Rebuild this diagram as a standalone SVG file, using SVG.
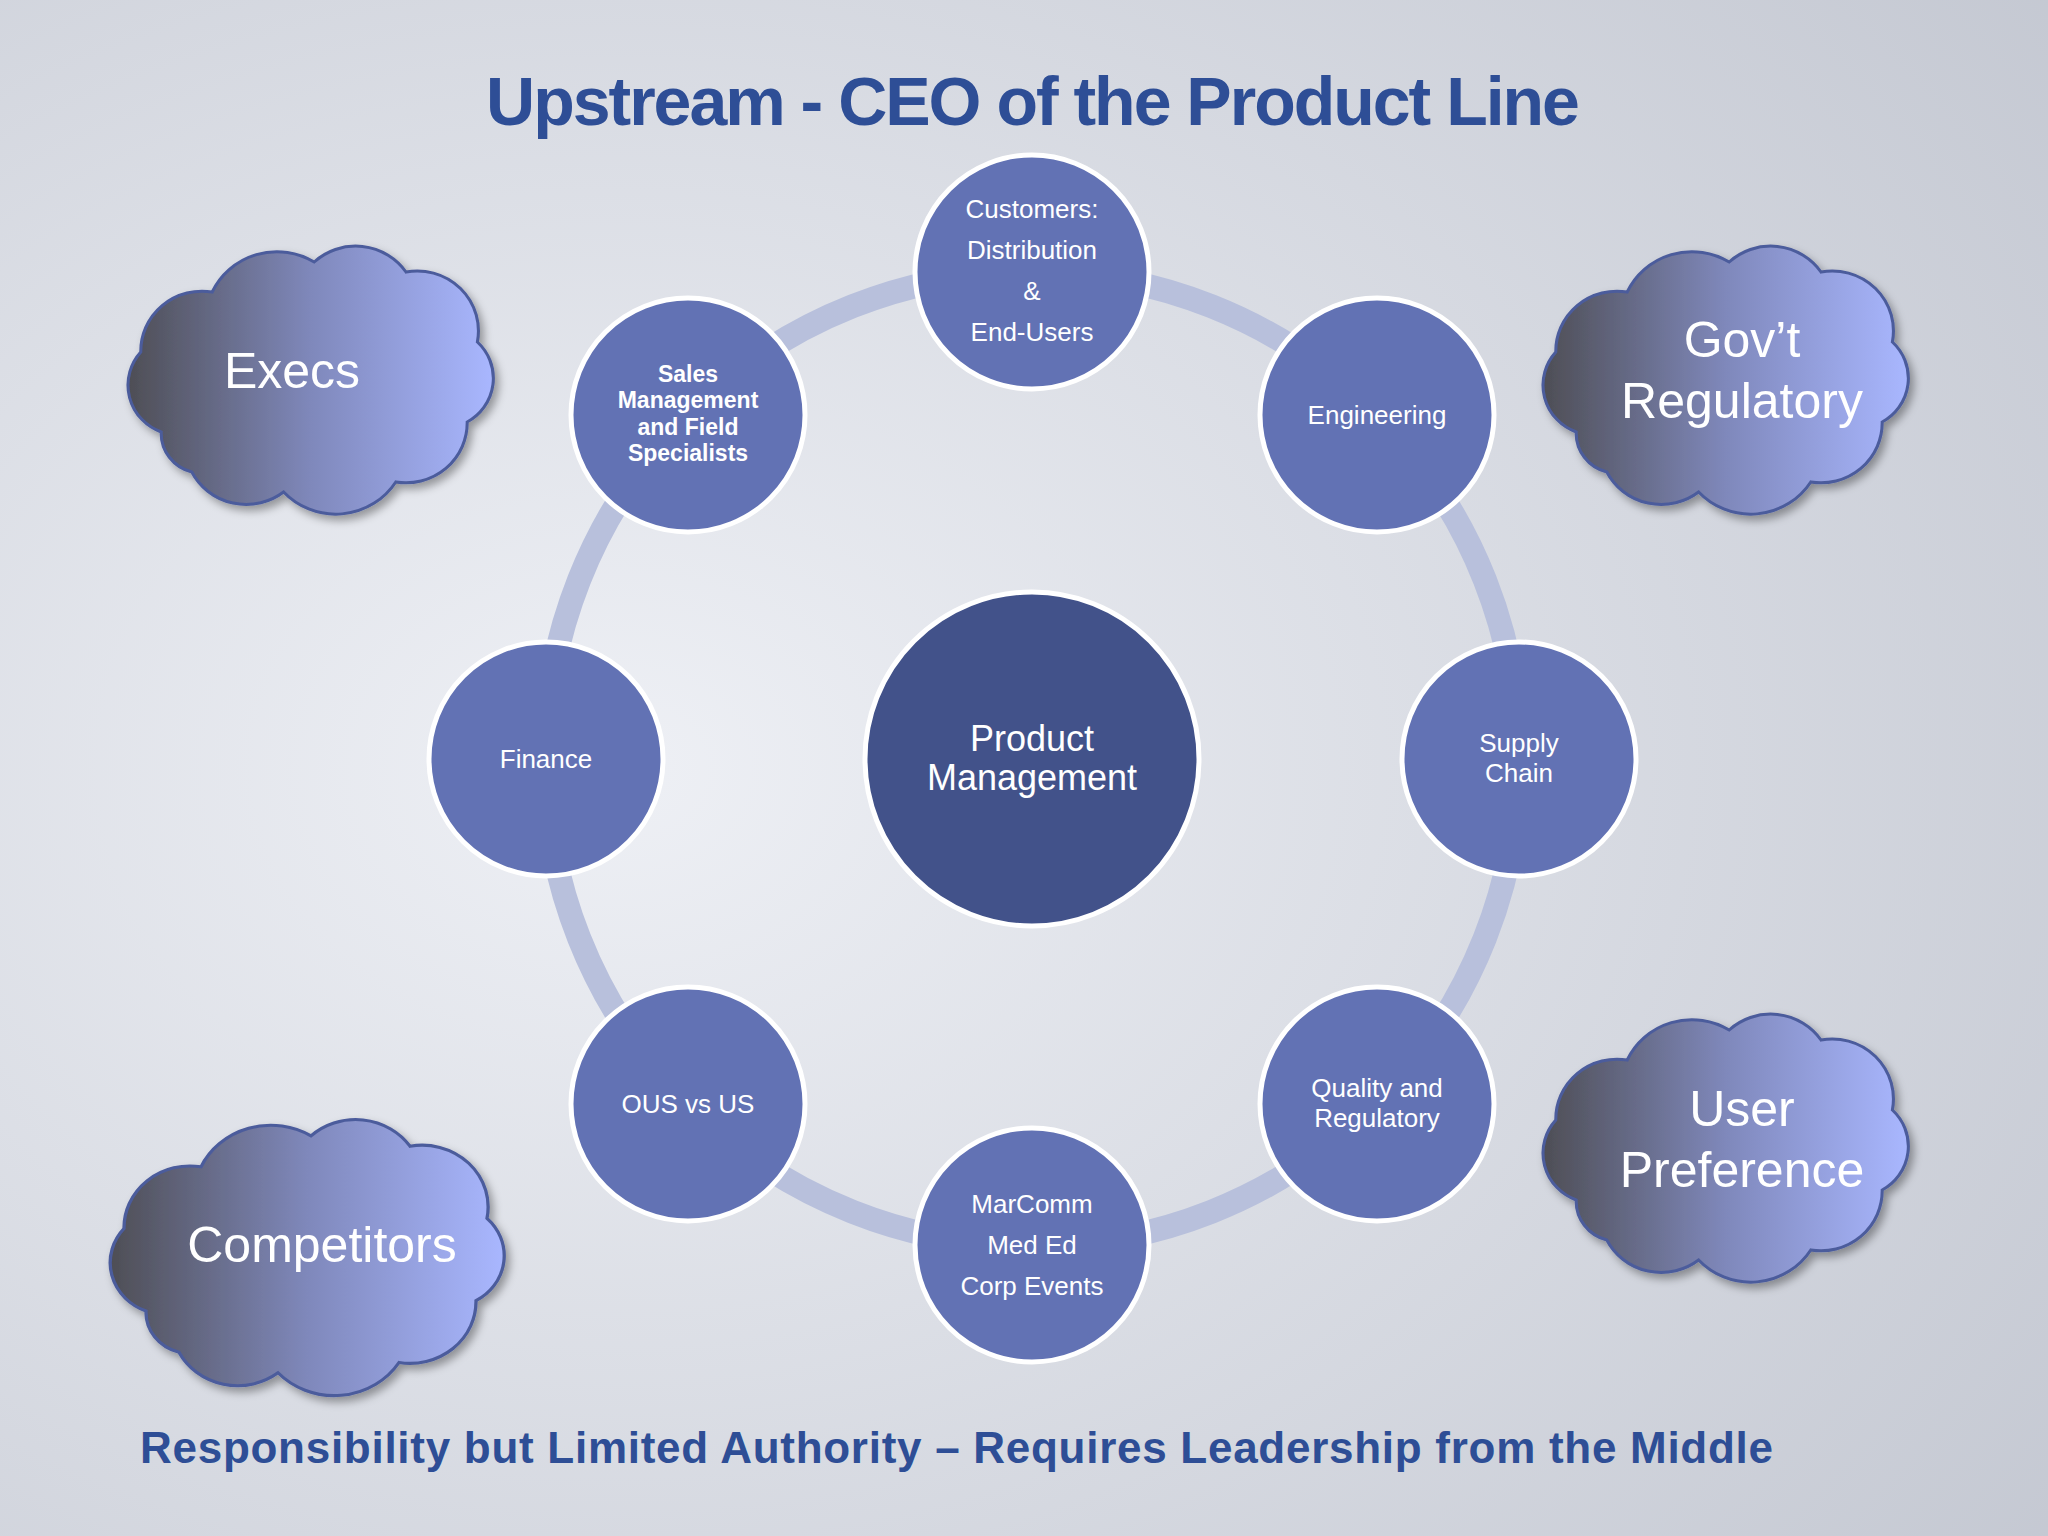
<svg xmlns="http://www.w3.org/2000/svg" width="2048" height="1536" viewBox="0 0 2048 1536">
<defs>
<radialGradient id="bg" cx="0.3" cy="0.5" r="0.9"><stop offset="0" stop-color="#eef0f5"/><stop offset="1" stop-color="#c3c7d1"/></radialGradient>
<linearGradient id="cg" x1="0" y1="0" x2="1" y2="0"><stop offset="0" stop-color="#4e4e55"/><stop offset="0.5" stop-color="#7f88bb"/><stop offset="1" stop-color="#a9b7ff"/></linearGradient>
<path id="cloud" d="M 60,200 A 50,50 0 0 1 40,120 A 60,60 0 0 1 110,60 A 70,70 0 0 1 210,30 A 60,60 0 0 1 300,40 A 60,60 0 0 1 370,110 A 50,50 0 0 1 360,190 A 60,60 0 0 1 290,250 A 70,70 0 0 1 180,260 A 60,60 0 0 1 90,240 A 40,40 0 0 1 60,200 Z" fill="url(#cg)" stroke="#4c5c9c" stroke-width="3"/>
<filter id="sh" x="-10%" y="-10%" width="130%" height="130%"><feDropShadow dx="4" dy="5" stdDeviation="4" flood-opacity="0.35"/></filter>
</defs>
<style>
.sat{fill:#6272b4;stroke:#fff;stroke-width:5}
.t{font-family:"Liberation Sans",Arial,sans-serif;fill:#fff;text-anchor:middle}
.n{font-size:26px}
.c{font-size:50px}
</style>
<rect width="2048" height="1536" fill="url(#bg)"/>
<text x="1032" y="125" font-family="Liberation Sans,Arial,sans-serif" font-weight="bold" font-size="68" fill="#2e4e96" text-anchor="middle" letter-spacing="-2">Upstream - CEO of the Product Line</text>
<g id="connectors"><circle cx="1032" cy="759" r="487" fill="none" stroke="#b8c0dc" stroke-width="24"/></g>
<g id="execs" filter="url(#sh)"><use href="#cloud" transform="translate(100,232) scale(1.02,1.0)"/><text class="t c" x="292" y="388">Execs</text></g>
<g id="govt" filter="url(#sh)"><use href="#cloud" transform="translate(1515,232) scale(1.02,1.0)"/><text class="t c" x="1742" y="357">Gov’t</text><text class="t c" x="1742" y="418">Regulatory</text></g>
<g id="user" filter="url(#sh)"><use href="#cloud" transform="translate(1515,1000) scale(1.02,1.0)"/><text class="t c" x="1742" y="1126">User</text><text class="t c" x="1742" y="1187">Preference</text></g>
<g id="competitors" filter="url(#sh)"><use href="#cloud" transform="translate(80,1105) scale(1.1,1.03)"/><text class="t c" x="322" y="1262">Competitors</text></g>
<g id="center"><circle cx="1032" cy="759" r="167" fill="#42528a" stroke="#fff" stroke-width="5"/><text class="t" font-size="36" x="1032" y="751">Product</text><text class="t" font-size="36" x="1032" y="790">Management</text></g>
<g id="customers"><circle class="sat" cx="1032" cy="272" r="117"/><text class="t n" x="1032" y="218">Customers:</text><text class="t n" x="1032" y="259">Distribution</text><text class="t n" x="1032" y="300">&amp;</text><text class="t n" x="1032" y="341">End-Users</text></g>
<g id="engineering"><circle class="sat" cx="1377" cy="415" r="117"/><text class="t n" x="1377" y="424">Engineering</text></g>
<g id="supply"><circle class="sat" cx="1519" cy="759" r="117"/><text class="t n" x="1519" y="752">Supply</text><text class="t n" x="1519" y="782">Chain</text></g>
<g id="quality"><circle class="sat" cx="1377" cy="1104" r="117"/><text class="t n" x="1377" y="1097">Quality and</text><text class="t n" x="1377" y="1127">Regulatory</text></g>
<g id="marcomm"><circle class="sat" cx="1032" cy="1245" r="117"/><text class="t n" x="1032" y="1213">MarComm</text><text class="t n" x="1032" y="1254">Med Ed</text><text class="t n" x="1032" y="1295">Corp Events</text></g>
<g id="ous"><circle class="sat" cx="688" cy="1104" r="117"/><text class="t n" x="688" y="1113">OUS vs US</text></g>
<g id="finance"><circle class="sat" cx="546" cy="759" r="117"/><text class="t n" x="546" y="768">Finance</text></g>
<g id="sales"><circle class="sat" cx="688" cy="415" r="117"/><g class="t" font-size="23" font-weight="bold"><text x="688" y="382">Sales</text><text x="688" y="408">Management</text><text x="688" y="435">and Field</text><text x="688" y="461">Specialists</text></g></g>
<text x="140" y="1463" font-family="Liberation Sans,Arial,sans-serif" font-weight="bold" font-size="44" fill="#2e4e96" textLength="1633">Responsibility but Limited Authority – Requires Leadership from the Middle</text>
</svg>
